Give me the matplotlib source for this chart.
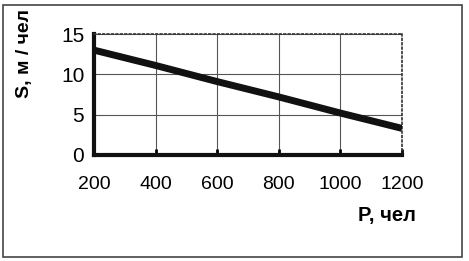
import matplotlib
matplotlib.use("Agg")
import matplotlib.pyplot as plt
from matplotlib.patches import Rectangle

P = [200, 400, 600, 800, 1000, 1200]
S = [13.0, 11.1, 9.1, 7.2, 5.2, 3.3]
x_ticks = [200, 400, 600, 800, 1000, 1200]
y_ticks = [0, 5, 10, 15]

plt.rcParams['font.family'] = ['Liberation Sans', 'DejaVu Sans']

fig = plt.figure(figsize=(4.69, 2.61), dpi=100)
ax = fig.add_axes([94/469, 1-155/261, (402-94)/469, (155-34)/261])

ax.plot(P, S, color='#111111', linewidth=5, solid_capstyle='butt', zorder=3)
ax.set_xlim(200, 1200)
ax.set_ylim(0, 15)
ax.set_xticks(x_ticks)
ax.set_yticks(y_ticks)
ax.grid(True, color='#555555', linewidth=0.8)
for s in ['left', 'bottom']:
    ax.spines[s].set_linewidth(3)
    ax.spines[s].set_color('#111111')
for s in ['top', 'right']:
    ax.spines[s].set_linestyle(':')
    ax.spines[s].set_linewidth(1.2)
    ax.spines[s].set_color('#333333')
ax.tick_params(axis='x', length=4, width=2, direction='in', pad=15, labelsize=14)
ax.tick_params(axis='y', length=0, pad=7, labelsize=15)
fig.text(25/469, 1-54/261, 'S, м / чел', fontsize=14, fontweight='bold', rotation=90,
         ha='center', va='center')
fig.text(387/469, 1-216/261, 'P, чел', fontsize=14.5, fontweight='bold', ha='center', va='center')

fig.patches.append(Rectangle((3/469, 4/261), 459/469, 252/261, transform=fig.transFigure,
                             fill=False, edgecolor='#444444', linewidth=1.2))

fig.savefig('out.png', dpi=100)
